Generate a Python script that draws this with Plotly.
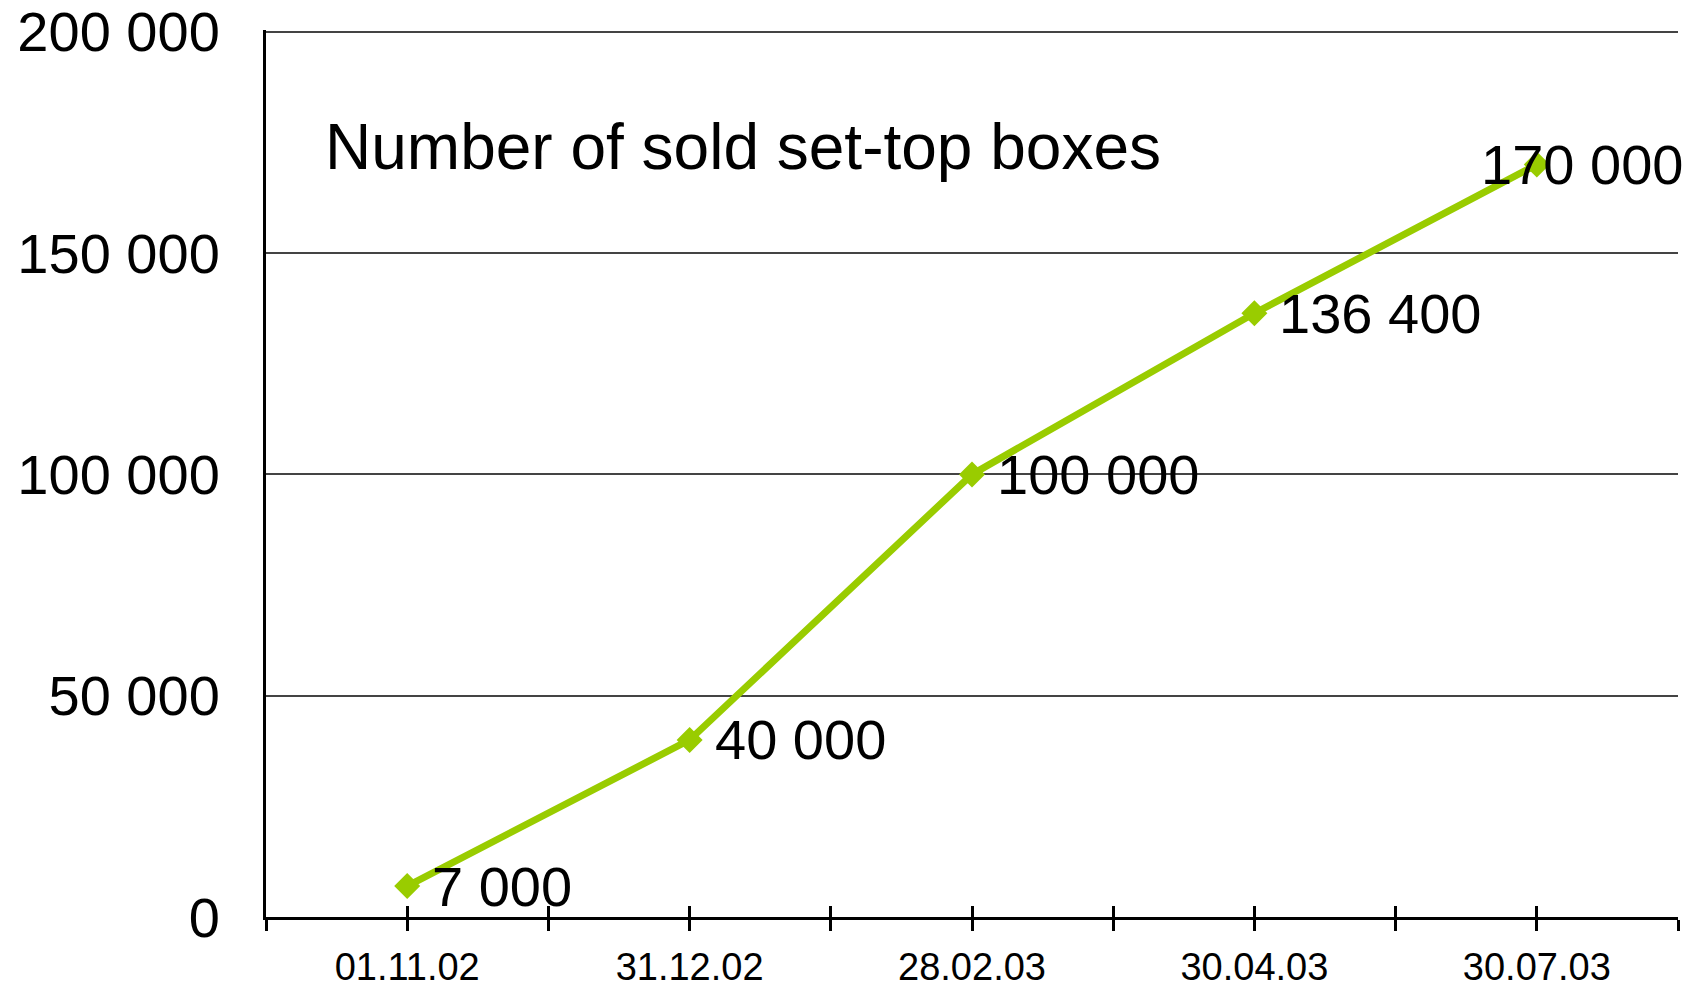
import plotly.graph_objects as go

# Sales of set-top boxes by reporting date
dates = ["01.11.02", "31.12.02", "28.02.03", "30.04.03", "30.07.03"]
boxes_sold = [7000, 40000, 100000, 136400, 170000]
value_labels = ["7 000", "40 000", "100 000", "136 400", "170 000"]
y_ticks = [0, 50000, 100000, 150000, 200000]
y_tick_labels = ["0", "50 000", "100 000", "150 000", "200 000"]

FONT = "Liberation Sans, Arial, sans-serif"
GREEN = "#99CC00"

x_pos = list(range(len(dates)))
# ticks at each date and midway between dates
tick_vals = [i / 2 - 0.5 for i in range(2 * len(dates) + 1)]
tick_text = [dates[int(v)] if float(v).is_integer() else "" for v in tick_vals]

fig = go.Figure()
fig.add_trace(go.Scatter(
    x=x_pos, y=boxes_sold, mode="lines+markers",
    line=dict(color=GREEN, width=7),
    marker=dict(symbol="diamond", size=20, color=GREEN),
    cliponaxis=False, showlegend=False, hoverinfo="skip",
))

# value labels beside each point; the last one sits left so it stays in frame
for i, (xv, yv, txt) in enumerate(zip(x_pos, boxes_sold, value_labels)):
    last = i == len(x_pos) - 1
    fig.add_annotation(
        x=xv, y=yv, text=txt, showarrow=False,
        xanchor="left", yanchor="middle",
        xshift=-58 if last else 23,
        font=dict(family=FONT, size=56, color="black"),
    )

fig.add_annotation(
    xref="paper", yref="paper", x=0.0405, y=0.868,
    text="Number of sold set-top boxes", showarrow=False,
    xanchor="left", yanchor="middle",
    font=dict(family=FONT, size=64, color="black"),
)

fig.update_layout(
    width=1704, height=987,
    margin=dict(l=266, r=26, t=30, b=70),
    paper_bgcolor="white", plot_bgcolor="white",
    font=dict(family=FONT, color="black"),
    xaxis=dict(
        range=[-0.5, len(dates) - 0.5],
        tickmode="array", tickvals=tick_vals, ticktext=tick_text,
        ticks="outside", ticklen=11, tickwidth=3, tickcolor="black",
        showline=True, linecolor="black", linewidth=3,
        showgrid=False, zeroline=False, automargin=False,
        ticklabelstandoff=3,
        tickfont=dict(family=FONT, size=38, color="black"),
    ),
    xaxis2=dict(
        overlaying="x", anchor="y", side="bottom",
        range=[-0.5, len(dates) - 0.5],
        tickmode="array", tickvals=tick_vals, ticktext=[""] * len(tick_vals),
        ticks="inside", ticklen=11, tickwidth=3, tickcolor="black",
        showline=False, showgrid=False, zeroline=False, showticklabels=False,
        automargin=False,
    ),
    yaxis=dict(
        # a touch above 200 000 so the top grid line is drawn
        range=[0, 200400],
        tickmode="array", tickvals=y_ticks, ticktext=y_tick_labels,
        ticks="", ticklabelstandoff=32,
        showline=True, linecolor="black", linewidth=3,
        showgrid=True, gridcolor="#444444", gridwidth=1.5,
        zeroline=False, automargin=False,
        tickfont=dict(family=FONT, size=56, color="black"),
    ),
)
# empty trace so the overlay axis with inward ticks is drawn
fig.add_trace(go.Scatter(x=[None], y=[None], xaxis="x2", yaxis="y",
                         showlegend=False, hoverinfo="skip"))

fig.write_html("out.html")
